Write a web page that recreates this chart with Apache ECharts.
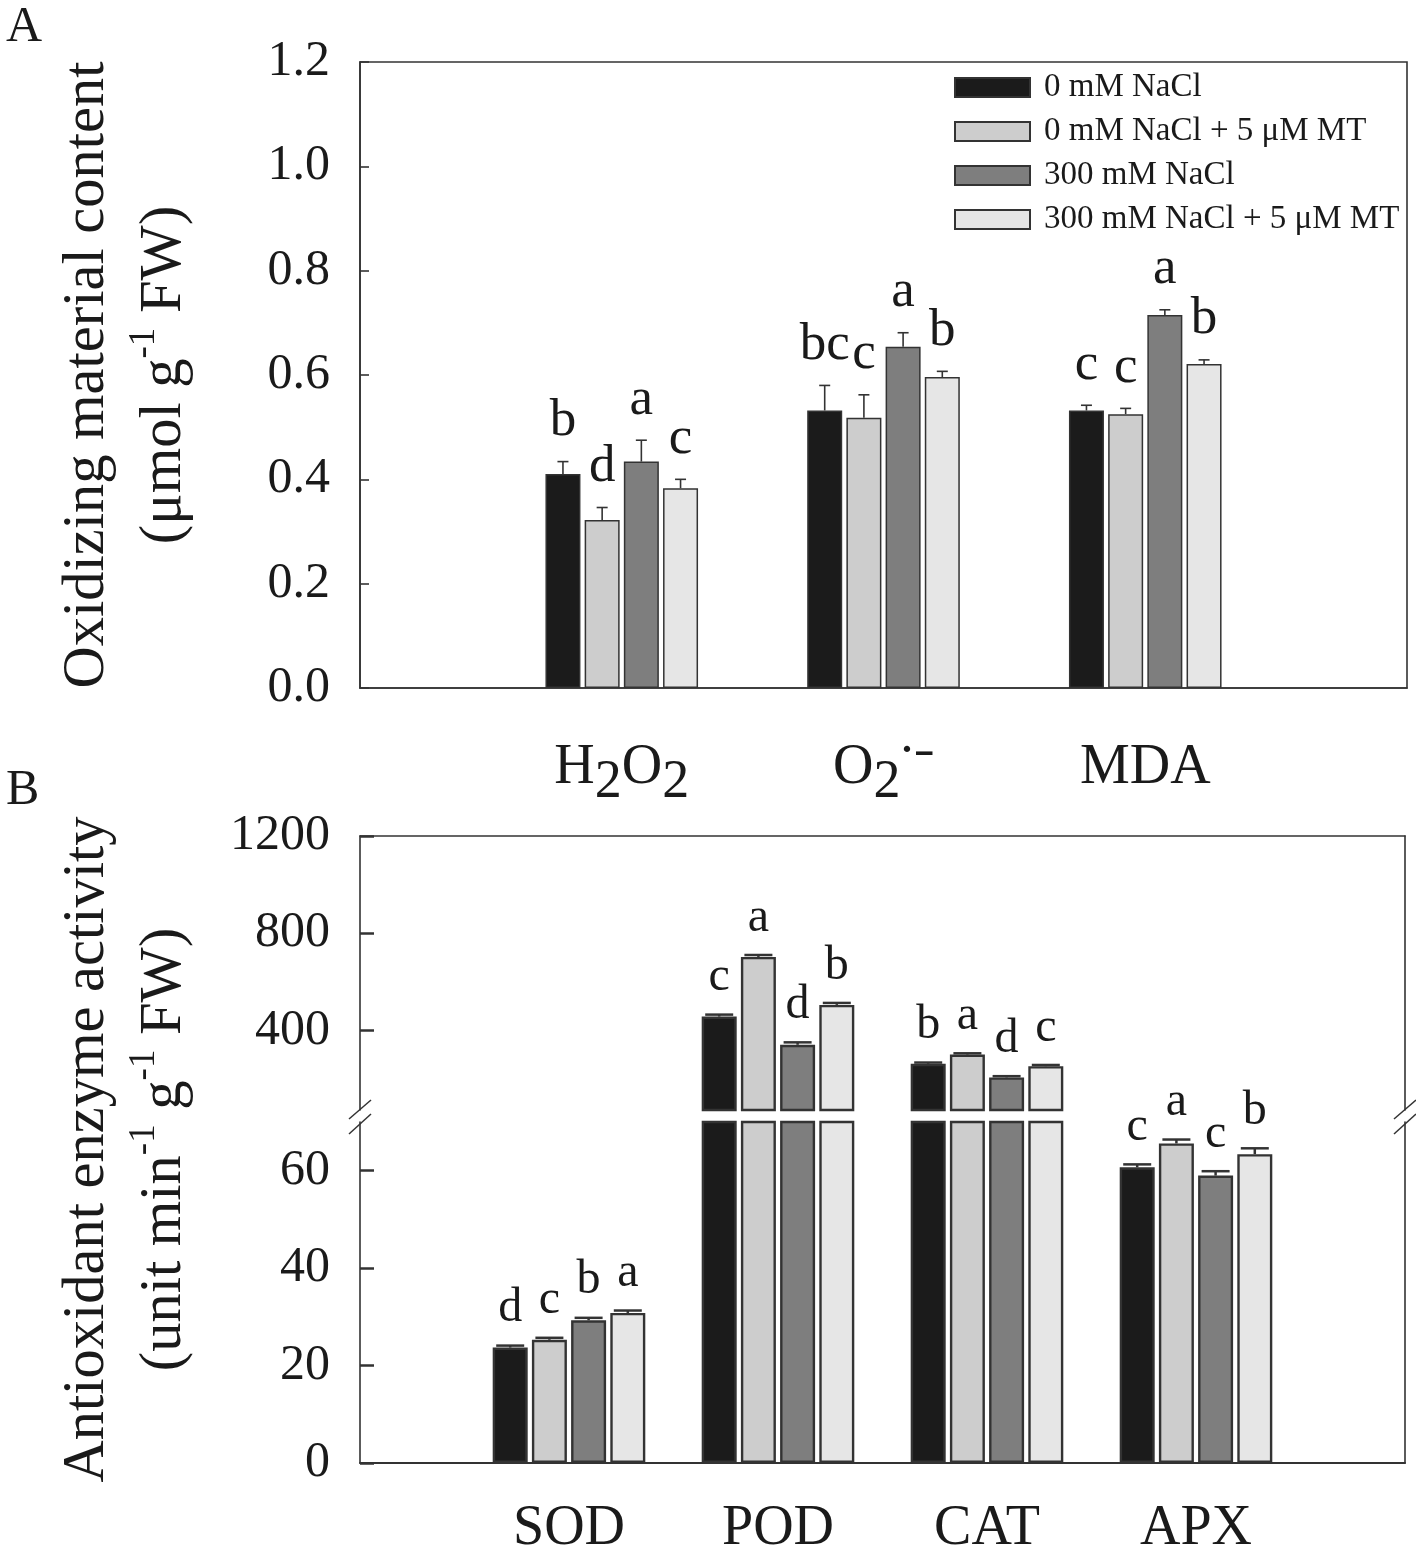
<!DOCTYPE html>
<html><head><meta charset="utf-8">
<script src="https://cdn.jsdelivr.net/npm/echarts@6/dist/echarts.min.js"></script>
<style>html,body{margin:0;padding:0;background:#fff}#c{width:1416px;height:1548px}</style>
</head><body><div id="c"></div>
<script>
// ---------- DATA ----------
const seriesNames = ['0 mM NaCl', '0 mM NaCl + 5 μM MT', '300 mM NaCl', '300 mM NaCl + 5 μM MT'];

// Panel A
const catsA = ['H2O2', 'O2', 'MDA'];
const valA = [
  [0.410, 0.532, 0.532],
  [0.322, 0.518, 0.525],
  [0.434, 0.654, 0.715],
  [0.383, 0.596, 0.621]
];
const errA = [
  [0.024, 0.048, 0.010],
  [0.024, 0.044, 0.011],
  [0.041, 0.027, 0.010],
  [0.017, 0.011, 0.008]
];
const letA = [['b', 'bc', 'c'], ['d', 'c', 'c'], ['a', 'a', 'a'], ['c', 'b', 'b']];
const yTicksA = [0, 0.2, 0.4, 0.6, 0.8, 1.0, 1.2];

// Panel B
const catsB = ['SOD', 'POD', 'CAT', 'APX'];
const valB = [
  [23.7, 458, 264, 60.7],
  [25.3, 703, 302, 65.6],
  [29.3, 342, 208, 59.0],
  [30.8, 506, 254, 63.4]
];
const errB = [
  [0.4, 8, 5, 0.6],
  [0.4, 8, 5, 0.8],
  [0.5, 10, 5, 0.9],
  [0.5, 8, 5, 1.2]
];
const letB = [['d', 'c', 'b', 'c'], ['c', 'a', 'a', 'a'], ['b', 'd', 'd', 'c'], ['a', 'b', 'c', 'b']];
const yTicksBUpper = [400, 800, 1200];
const yTicksBLower = [0, 20, 40, 60];

// ---------- STYLE ----------
const F = '"Liberation Serif", "Times New Roman", serif';
const INK = '#1a1a1a';
const LINE = '#333';
const colors = ['#1b1b1b', '#cdcdcd', '#7e7e7e', '#e6e6e6'];
const BAR_W = 35, BAR_GAP = '12%', SLOT = 35 * 1.12;
const B_UP_MIN = 74, B_UP_MAX = 1200, B_LO_MAX = 70;

const pad = a => ['', ...a, ''];

const richX = {
  n: { fontSize: 56, fontFamily: F, color: INK, lineHeight: 60, verticalAlign: 'top' },
  s: { fontSize: 54, fontFamily: F, color: INK, lineHeight: 60, padding: [16, 0, 0, 0], verticalAlign: 'top' },
  d: { fontSize: 22, fontFamily: 'DejaVu Sans', color: INK, lineHeight: 8, verticalAlign: 'top', padding: [0, 1, 0, 0] },
  m: { fontSize: 28, fontFamily: 'DejaVu Sans', fontWeight: 'bold', color: INK, lineHeight: 22, verticalAlign: 'top' }
};
const fmtX = v => {
  if (v === 'H2O2') return '{n|H}{s|2}{n|O}{s|2}';
  if (v === 'O2') return '{n|O}{s|2}{d|•}{m|‒}';
  return v ? '{n|' + v + '}' : '';
};
const richName = {
  t: { fontSize: 58.5, fontFamily: F, color: INK, lineHeight: 77 },
  p: { fontSize: 37, fontFamily: F, color: INK, lineHeight: 20, verticalAlign: 'top' }
};

function errRenderer(items, s, capW, lw, fs, gap) {
  return function (params, api) {
    const it = items[params.dataIndex];
    const p0 = api.coord([it.ci, it.v]);
    const p1 = api.coord([it.ci, it.v + it.e]);
    const x = p0[0] + (s - 1.5) * SLOT;
    return {
      type: 'group', children: [
        { type: 'line', shape: { x1: x, y1: p0[1], x2: x, y2: p1[1] }, style: { stroke: LINE, lineWidth: lw } },
        { type: 'line', shape: { x1: x - capW / 2, y1: p1[1], x2: x + capW / 2, y2: p1[1] }, style: { stroke: LINE, lineWidth: lw } },
        { type: 'text', style: { text: it.l, x: x, y: p1[1] - gap, align: 'center', verticalAlign: 'bottom', fontSize: fs, fontFamily: F, fill: INK } }
      ]
    };
  };
}

const series = [];
// Panel A
for (let s = 0; s < 4; s++) {
  series.push({
    type: 'bar', name: seriesNames[s], xAxisIndex: 0, yAxisIndex: 0,
    barWidth: BAR_W, barGap: BAR_GAP,
    itemStyle: { color: colors[s], borderColor: LINE, borderWidth: 1.5 },
    data: ['-', ...valA[s], '-']
  });
}
for (let s = 0; s < 4; s++) {
  const items = valA[s].map((v, i) => ({ ci: i + 1, v, e: errA[s][i], l: letA[s][i] }));
  series.push({
    type: 'custom', xAxisIndex: 0, yAxisIndex: 0, z: 5,
    renderItem: errRenderer(items, s, 11, 1.6, 53, 14),
    data: items.map(it => [it.ci, it.v + it.e])
  });
}
// Panel B upper & lower
for (let s = 0; s < 4; s++) {
  series.push({
    type: 'bar', name: seriesNames[s], xAxisIndex: 1, yAxisIndex: 1,
    barWidth: BAR_W, barGap: BAR_GAP,
    itemStyle: { color: colors[s], borderColor: LINE, borderWidth: 2.4 },
    data: ['-', ...valB[s].map(v => v > B_UP_MIN ? v : '-'), '-']
  });
  series.push({
    type: 'bar', name: seriesNames[s], xAxisIndex: 2, yAxisIndex: 3,
    barWidth: BAR_W, barGap: BAR_GAP,
    itemStyle: { color: colors[s], borderColor: LINE, borderWidth: 2.4 },
    data: ['-', ...valB[s], '-']
  });
}
for (let s = 0; s < 4; s++) {
  const all = valB[s].map((v, i) => ({ ci: i + 1, v, e: errB[s][i], l: letB[s][i] }));
  const up = all.filter(it => it.v > B_UP_MIN);
  const lo = all.filter(it => it.v <= B_LO_MAX);
  series.push({
    type: 'custom', xAxisIndex: 1, yAxisIndex: 1, z: 5,
    renderItem: errRenderer(up, s, 28, 2.5, 48, 13),
    data: up.map(it => [it.ci, it.v + it.e])
  });
  series.push({
    type: 'custom', xAxisIndex: 2, yAxisIndex: 3, z: 5,
    renderItem: errRenderer(lo, s, 28, 2.5, 48, 13),
    data: lo.map(it => [it.ci, it.v + it.e])
  });
}

const axLine = { show: true, lineStyle: { color: LINE, width: 1.6 } };
const tickLbl = { fontSize: 50, fontFamily: F, color: INK, margin: 30 };
const plain = v => String(v);

const option = {
  backgroundColor: '#fff',
  animation: false,
  title: [
    { text: 'A', left: 1, top: -2, textStyle: { fontSize: 50, fontWeight: 'normal', fontFamily: F, color: INK } },
    { text: 'B', left: 1, top: 761, textStyle: { fontSize: 50, fontWeight: 'normal', fontFamily: F, color: INK } }
  ],
  legend: {
    data: seriesNames, orient: 'vertical', left: 949, top: 66,
    icon: 'rect', itemWidth: 75, itemHeight: 19, itemGap: 11,
    textStyle: { fontSize: 33, fontFamily: F, color: INK, padding: [0, 0, 0, 9] },
    selectedMode: false
  },
  grid: [
    { left: 360, right: 9, top: 62, bottom: 860, show: true, borderColor: LINE, borderWidth: 1.6, backgroundColor: 'transparent', outerBoundsMode: 'none', containLabel: false },
    { left: 360, right: 11, top: 836, bottom: 1548 - 1110, outerBoundsMode: 'none', containLabel: false },
    { left: 360, right: 11, top: 1122, bottom: 85, outerBoundsMode: 'none', containLabel: false },
    { left: 360, right: 11, top: 836, bottom: 85, outerBoundsMode: 'none', containLabel: false }
  ],
  xAxis: [
    { type: 'category', gridIndex: 0, data: pad(catsA), boundaryGap: false, axisLine: axLine, axisTick: { show: false },
      axisLabel: { interval: 0, margin: 52, formatter: fmtX, rich: richX } },
    { type: 'category', gridIndex: 1, position: 'top', data: pad(catsB), boundaryGap: false, axisLine: axLine, axisTick: { show: false }, axisLabel: { show: false } },
    { type: 'category', gridIndex: 2, data: pad(catsB), boundaryGap: false, axisLine: { show: true, lineStyle: { color: LINE, width: 2 } }, axisTick: { show: false },
      axisLabel: { interval: 0, margin: 38, formatter: fmtX, rich: richX } },
    { type: 'value', gridIndex: 3, show: false, min: 0, max: 1 }
  ],
  yAxis: [
    { type: 'value', gridIndex: 0, min: 0, max: 1.2, interval: 0.2, axisLine: axLine,
      axisTick: { show: true, inside: true, length: 9, lineStyle: { color: LINE, width: 1.6 } },
      axisLabel: Object.assign({ formatter: v => v.toFixed(1) }, tickLbl), splitLine: { show: false },
      name: '{t|Oxidizing material content}\n{t|(μmol g}{p|-1}{t| FW)}', nameLocation: 'middle', nameGap: 157,
      nameTextStyle: { rich: richName } },
    { type: 'value', gridIndex: 1, min: B_UP_MIN, max: B_UP_MAX, axisLine: axLine,
      axisTick: { show: true, inside: true, length: 14, customValues: yTicksBUpper, lineStyle: { color: LINE, width: 2.5 } },
      axisLabel: Object.assign({ customValues: yTicksBUpper, formatter: plain }, tickLbl), splitLine: { show: false } },
    { type: 'value', gridIndex: 1, position: 'right', min: B_UP_MIN, max: B_UP_MAX, axisLine: axLine, axisTick: { show: false }, axisLabel: { show: false }, splitLine: { show: false } },
    { type: 'value', gridIndex: 2, min: 0, max: B_LO_MAX, axisLine: axLine,
      axisTick: { show: true, inside: true, length: 14, customValues: yTicksBLower, lineStyle: { color: LINE, width: 2.5 } },
      axisLabel: Object.assign({ customValues: yTicksBLower, formatter: plain }, tickLbl), splitLine: { show: false } },
    { type: 'value', gridIndex: 2, position: 'right', min: 0, max: B_LO_MAX, axisLine: axLine, axisTick: { show: false }, axisLabel: { show: false }, splitLine: { show: false } },
    { type: 'value', gridIndex: 3, min: 0, max: 1, axisLine: { show: false }, axisTick: { show: false }, axisLabel: { show: false }, splitLine: { show: false },
      name: '{t|Antioxidant enzyme activity}\n{t|(unit min}{p|-1}{t| g}{p|-1}{t| FW)}', nameLocation: 'middle', nameGap: 157,
      nameTextStyle: { rich: richName } }
  ],
  graphic: [
    { type: 'line', shape: { x1: 349, y1: 1119, x2: 371, y2: 1100 }, style: { stroke: LINE, lineWidth: 1.5 } },
    { type: 'line', shape: { x1: 349, y1: 1134, x2: 371, y2: 1114 }, style: { stroke: LINE, lineWidth: 1.5 } },
    { type: 'line', shape: { x1: 1394, y1: 1119, x2: 1416, y2: 1100 }, style: { stroke: LINE, lineWidth: 1.5 } },
    { type: 'line', shape: { x1: 1394, y1: 1134, x2: 1416, y2: 1114 }, style: { stroke: LINE, lineWidth: 1.5 } }
  ],
  series
};
const chart = echarts.init(document.getElementById('c'), null, { renderer: 'canvas' });
chart.setOption(option);
</script>
</body></html>
